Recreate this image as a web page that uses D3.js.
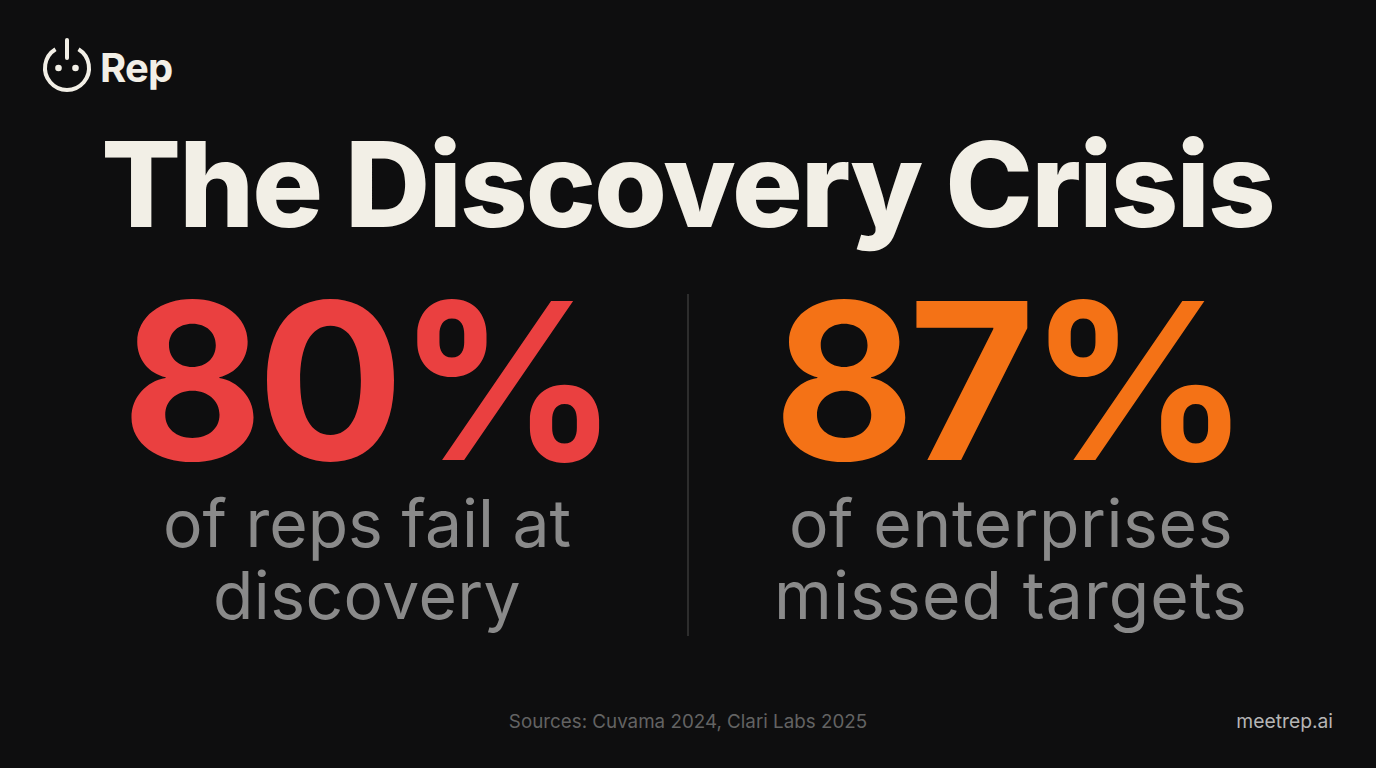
<!DOCTYPE html>
<html>
<head>
<meta charset="utf-8">
<script src="https://cdn.jsdelivr.net/npm/d3@7"></script>
<style>
  html, body { margin: 0; padding: 0; background: #0e0e0f; }
  svg { display: block; }
  text { font-family: Inter, "Noto Sans", sans-serif; }
</style>
</head>
<body>
<svg id="chart" width="1376" height="768"></svg>
<script>
"use strict";

/* global d3 */
var title = "The Discovery Crisis";
var brand = "Rep";
var statValues = [80, 87];
var statLabels = [
    ["of reps fail at", "discovery"],
    ["of enterprises", "missed targets"]
];
var sources = "Sources: Cuvama 2024, Clari Labs 2025";
var site = "meetrep.ai";

var svg = d3.select("#chart");

// column centres come off a point scale, divider sits halfway between them
var x = d3.scalePoint().domain(d3.range(statValues.length)).range([367, 1008.5]);
var color = d3.scaleOrdinal().domain(d3.range(statValues.length)).range(["#ea4040", "#f47216"]);

// labels are a touch wider than plain Inter, tracked per line
var labelTracking = [[0, 0.4], [0.6, 1.1]];
var labelShift = [0, 2.5];

svg.append("rect")
    .attr("width", 1376)
    .attr("height", 768)
    .attr("fill", "#0e0e0f");

// logo
var logo = svg.append("g")
    .attr("transform", "translate(67,68)")
    .attr("fill", "none")
    .attr("stroke", "#f2efe6")
    .attr("stroke-linecap", "round");

logo.append("path")
    .attr("stroke-width", 4)
    .attr("d", d3.arc()
        .innerRadius(22)
        .outerRadius(22)
        .startAngle(0.55)
        .endAngle(2 * Math.PI - 0.55)());

logo.append("line")
    .attr("stroke-width", 4)
    .attr("x1", 0)
    .attr("x2", 0)
    .attr("y1", -28)
    .attr("y2", -10);

logo.selectAll("circle")
    .data([-8.5, 8.5])
    .join("circle")
    .attr("cx", function (d) { return d; })
    .attr("cy", 0)
    .attr("r", 3.3)
    .attr("fill", "#f2efe6")
    .attr("stroke", "none");

svg.append("text")
    .attr("x", 100)
    .attr("y", 82)
    .attr("font-size", 40)
    .attr("font-weight", 700)
    .attr("letter-spacing", -0.8)
    .attr("fill", "#f2efe6")
    .text(brand);

svg.append("text")
    .attr("x", 687.5)
    .attr("y", 227)
    .attr("text-anchor", "middle")
    .attr("font-size", 118)
    .attr("font-weight", 800)
    .attr("letter-spacing", -1.9)
    .attr("fill", "#f2efe6")
    .text(title);

// stats
var stats = svg.selectAll("g.stat")
    .data(statValues)
    .join("g")
    .attr("class", "stat");

stats.append("text")
    .attr("x", function (d, i) { return x(i); })
    .attr("y", 460)
    .attr("text-anchor", "middle")
    .attr("font-size", 218)
    .attr("font-weight", 700)
    .attr("letter-spacing", -6.5)
    .attr("fill", function (d, i) { return color(i); })
    .text(function (d) { return d + "%"; });

stats.each(function (d, i) {
    d3.select(this).selectAll("text.label")
        .data(statLabels[i])
        .join("text")
        .attr("class", "label")
        .attr("x", x(i) + labelShift[i])
        .attr("y", function (l, j) { return 547 + j * 72; })
        .attr("text-anchor", "middle")
        .attr("font-size", 66)
        .attr("font-weight", 400)
        .attr("letter-spacing", function (l, j) { return labelTracking[i][j]; })
        .attr("fill", "#8a8a8a")
        .text(function (l) { return l; });
});

// divider
svg.append("line")
    .attr("x1", 688)
    .attr("x2", 688)
    .attr("y1", 294)
    .attr("y2", 636)
    .attr("stroke", "#383838")
    .attr("stroke-width", 1.5);

svg.append("text")
    .attr("x", 688)
    .attr("y", 728)
    .attr("text-anchor", "middle")
    .attr("font-size", 18.8)
    .attr("fill", "#636363")
    .text(sources);

svg.append("text")
    .attr("x", 1333)
    .attr("y", 728)
    .attr("text-anchor", "end")
    .attr("font-size", 19.3)
    .attr("fill", "#b5b5b5")
    .text(site);
</script>
</body>
</html>
